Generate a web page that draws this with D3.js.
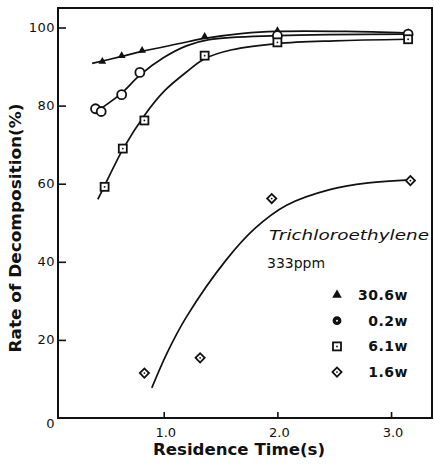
<!DOCTYPE html>
<html>
<head>
<meta charset="utf-8">
<script src="https://cdn.jsdelivr.net/npm/d3@7"></script>
<style>
body{margin:0;background:#fff;}
text{font-family:"DejaVu Sans",sans-serif;fill:#111;}
</style>
</head>
<body>
<div id="chart"></div>
<script>
// measured points  [residence time (s), decomposition (%)]
var pts306 = [[0.46,91.3],[0.63,92.8],[0.81,94.1],[1.36,97.7],[2.0,99.2],[3.15,98.7]];
var pts02  = [[0.40,79.2],[0.45,78.5],[0.63,82.8],[0.79,88.5],[2.0,97.9],[3.15,98.3]];
var pts61  = [[0.48,59.2],[0.64,69.0],[0.83,76.2],[1.36,92.8],[2.0,96.2],[3.15,97.0]];
var pts16  = [[0.83,11.5],[1.32,15.4],[1.95,56.2],[3.17,60.8]];
// hand drawn curves
var fit306 = [[0.37,90.8],[0.63,92.6],[0.81,93.9],[1.14,95.9],[1.36,97.2],[1.7,98.5],[2.0,99.0],[2.6,99.0],[3.15,98.6]];
var fit02  = [[0.45,79.3],[0.63,83.2],[0.79,87.8],[1.0,92.3],[1.2,95.3],[1.4,96.9],[2.0,97.9],[3.15,98.3]];
var fit61  = [[0.42,56.0],[0.48,59.5],[0.64,68.8],[0.83,77.5],[1.0,83.6],[1.2,88.6],[1.36,92.0],[1.6,94.3],[2.0,95.9],[2.5,96.6],[3.15,97.0]];
var fit16  = [[0.895,7.7],[1.03,16.7],[1.2,25.9],[1.55,40.5],[1.8,48.5],[2.08,54.5],[2.46,58.5],[2.8,60.2],[3.17,61.0]];
var xTicks = [1.0, 2.0, 3.0];
var yTicks = [0, 20, 40, 60, 80, 100];
var legendLabels = ["30.6w", "0.2w", "6.1w", "1.6w"];
var legendShapes = ["triangle", "circle", "square", "diamond"];

var W = 434, H = 464;
var x = d3.scaleLinear().domain([0.07, 3.36]).range([58, 432]);
var y = d3.scaleLinear().domain([0, 105]).range([418, 8]);

var svg = d3.select("#chart").append("svg")
    .attr("width", W).attr("height", H);

// frame
svg.append("rect")
    .attr("x", x.range()[0]).attr("y", y.range()[1])
    .attr("width", x.range()[1] - x.range()[0])
    .attr("height", y.range()[0] - y.range()[1])
    .attr("fill", "none").attr("stroke", "#111").attr("stroke-width", 2);

// Y axis (ticks inside)
var yAxis = svg.append("g")
    .attr("transform", "translate(" + x.range()[0] + ",0)")
    .call(d3.axisRight(y).tickValues(yTicks.filter(function(d){ return d > 0; }))
        .tickSize(8).tickFormat(""));
yAxis.select(".domain").remove();
yAxis.selectAll("line").attr("stroke", "#111").attr("stroke-width", 1.6);
svg.selectAll(".ylab").data(yTicks).enter().append("text")
    .attr("x", 55).attr("y", function(d){ return d == 0 ? y(d) + 5 : y(d); })
    .attr("dy", "0.35em").attr("text-anchor", "end")
    .style("font-size", "13px").style("letter-spacing", "0.5px")
    .text(function(d){ return d; });

// X axis (ticks inside)
var xAxis = svg.append("g")
    .attr("transform", "translate(0," + y.range()[0] + ")")
    .call(d3.axisTop(x).tickValues(xTicks).tickSize(6).tickFormat(""));
xAxis.select(".domain").remove();
xAxis.selectAll("line").attr("stroke", "#111").attr("stroke-width", 1.6);
svg.selectAll(".xlab").data(xTicks).enter().append("text")
    .attr("x", function(d){ return x(d) + 2; }).attr("y", 437)
    .attr("text-anchor", "middle")
    .style("font-size", "13px")
    .text(function(d){ return d.toFixed(1); });

// axis titles
svg.append("text")
    .attr("x", 239).attr("y", 455).attr("text-anchor", "middle")
    .attr("textLength", 172).attr("lengthAdjust", "spacingAndGlyphs")
    .style("font-size", "15px").style("font-weight", "bold")
    .text("Residence Time(s)");
svg.append("text")
    .attr("transform", "translate(21,228) rotate(-90)")
    .attr("text-anchor", "middle")
    .attr("textLength", 249).attr("lengthAdjust", "spacingAndGlyphs")
    .style("font-size", "15px").style("font-weight", "bold")
    .text("Rate of Decomposition(%)");

// curves
var line = d3.line()
    .x(function(d){ return x(d[0]); })
    .y(function(d){ return y(d[1]); })
    .curve(d3.curveCatmullRom.alpha(0.5));
[fit306, fit02, fit61, fit16].forEach(function(f){
    svg.append("path").datum(f).attr("d", line)
        .attr("fill", "none").attr("stroke", "#111").attr("stroke-width", 1.7);
});

// marker drawing
function marker(g, shape, cx, cy, legend){
    if (shape == "triangle") {
        g.append("path")
            .attr("d", d3.symbol().type(d3.symbolTriangle).size(legend ? 40 : 26)())
            .attr("transform", "translate(" + cx + "," + cy + ")")
            .attr("fill", "#111");
    } else if (shape == "circle") {
        g.append("circle").attr("cx", cx).attr("cy", cy).attr("r", legend ? 3.5 : 4.5)
            .attr("fill", legend ? "#111" : "#fff").attr("stroke", "#111").attr("stroke-width", 1.8);
        if (legend) g.append("circle").attr("cx", cx).attr("cy", cy).attr("r", 1).attr("fill", "#fff");
    } else if (shape == "square") {
        g.append("rect").attr("x", cx - 4).attr("y", cy - 4).attr("width", 8).attr("height", 8)
            .attr("fill", "#fff").attr("stroke", "#111").attr("stroke-width", 1.8);
        g.append("circle").attr("cx", cx).attr("cy", cy).attr("r", 0.9).attr("fill", "#111");
    } else {
        g.append("path")
            .attr("d", d3.symbol().type(d3.symbolSquare).size(42)())
            .attr("transform", "translate(" + cx + "," + cy + ") rotate(45)")
            .attr("fill", "#fff").attr("stroke", "#111").attr("stroke-width", 1.8);
        g.append("circle").attr("cx", cx).attr("cy", cy).attr("r", 0.9).attr("fill", "#111");
    }
}

var pts = [pts306, pts02, pts61, pts16];
pts.forEach(function(p, i){
    var g = svg.append("g");
    p.forEach(function(d){ marker(g, legendShapes[i], x(d[0]), y(d[1]), false); });
});

// legend
svg.append("text")
    .attr("x", 269).attr("y", 240)
    .attr("textLength", 160).attr("lengthAdjust", "spacingAndGlyphs")
    .style("font-size", "14px").style("font-style", "italic")
    .text("Trichloroethylene");
svg.append("text")
    .attr("x", 267).attr("y", 268)
    .attr("textLength", 58).attr("lengthAdjust", "spacingAndGlyphs")
    .style("font-size", "14px")
    .text("333ppm");
var lg = svg.append("g");
legendLabels.forEach(function(lab, i){
    var cy = 295 + i * 25.7;
    marker(lg, legendShapes[i], 337, cy, true);
    lg.append("text").attr("x", 408).attr("y", cy).attr("dy", "0.35em")
        .attr("text-anchor", "end")
        .style("font-size", "14px").style("font-weight", "bold").style("letter-spacing", "0.5px")
        .text(lab);
});
</script>
</body>
</html>
